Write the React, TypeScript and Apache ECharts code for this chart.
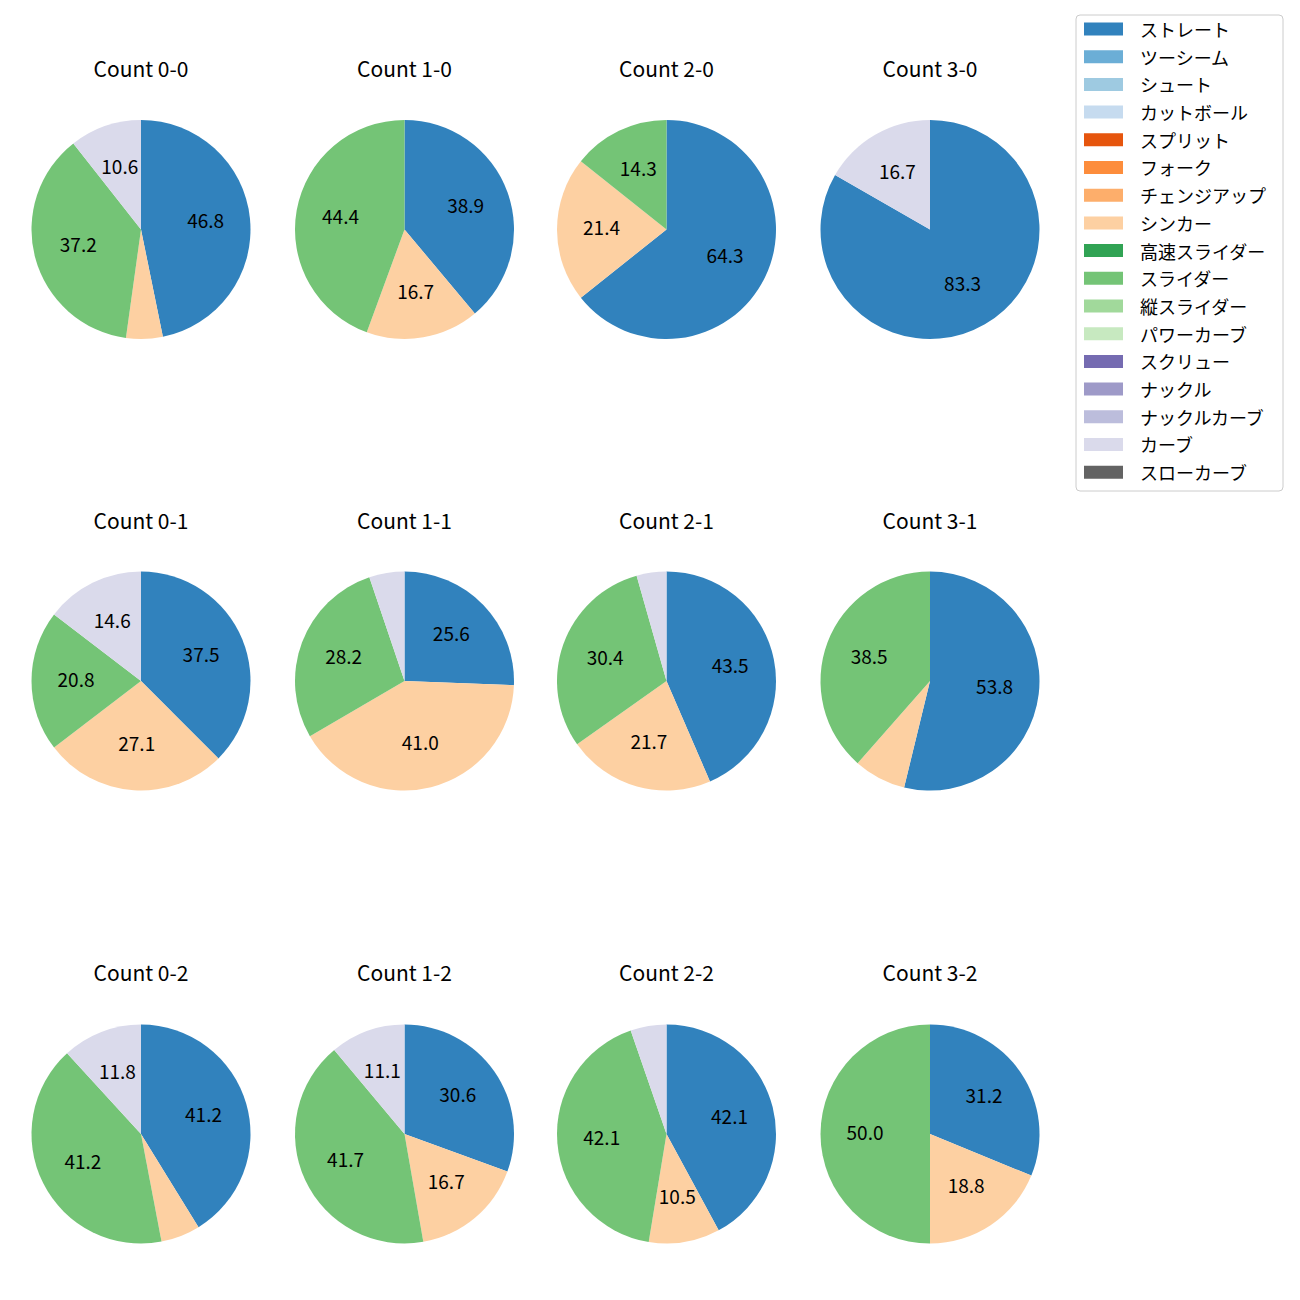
import React, { useEffect, useRef } from "react";
import * as echarts from "echarts";

const pitchTypes = [
  "ストレート", "ツーシーム", "シュート", "カットボール", "スプリット", "フォーク",
  "チェンジアップ", "シンカー", "高速スライダー", "スライダー", "縦スライダー",
  "パワーカーブ", "スクリュー", "ナックル", "ナックルカーブ", "カーブ", "スローカーブ",
];
const pitchColors = [
  "#3182bd", "#6baed6", "#9ecae1", "#c6dbef", "#e6550d", "#fd8d3c", "#fdae6b",
  "#fdd0a2", "#31a354", "#74c476", "#a1d99b", "#c7e9c0", "#756bb1", "#9e9ac8",
  "#bcbddc", "#dadaeb", "#636363",
];
const countLabels = ["0-0", "1-0", "2-0", "3-0", "0-1", "1-1", "2-1", "3-1", "0-2", "1-2", "2-2", "3-2"];

// percentage share per count (same order as countLabels)
const straight = [46.8, 38.9, 64.3, 83.3, 37.5, 25.6, 43.5, 53.8, 41.2, 30.6, 42.1, 31.2];
const sinker = [5.4, 16.7, 21.4, 0, 27.1, 41.0, 21.7, 7.7, 5.8, 16.7, 10.5, 18.8];
const slider = [37.2, 44.4, 14.3, 0, 20.8, 28.2, 30.4, 38.5, 41.2, 41.7, 42.1, 50.0];
const curve = [10.6, 0, 0, 16.7, 14.6, 5.2, 4.4, 0, 11.8, 11.1, 5.3, 0];

const shares: Record<string, number[]> = {
  "ストレート": straight,
  "シンカー": sinker,
  "スライダー": slider,
  "カーブ": curve,
};

const FONT = "Noto Sans CJK JP";
const colX = [141, 404.5, 666.5, 930];
const rowY = [229.5, 681, 1134];
const titleY = [67.5, 519.5, 971.5];
const R = 109.5;
const LABEL_R = 124;

export default function App() {
  const ref = useRef<HTMLDivElement>(null);
  useEffect(() => {
    if (!ref.current) return;
    const chart = echarts.init(ref.current, undefined, { renderer: "svg" });

    const pieSeries: any[] = [];
    const labelSeries: any[] = [];
    const graphics: any[] = [];

    countLabels.forEach((c, i) => {
      const cx = colX[i % 4];
      const cy = rowY[Math.floor(i / 4)];
      const data = pitchTypes.map((t, k) => ({
        name: t,
        value: shares[t] ? shares[t][i] : 0,
        itemStyle: { color: pitchColors[k] },
      }));
      pieSeries.push({
        type: "pie",
        center: [cx, cy],
        radius: [0, R],
        startAngle: 90,
        clockwise: true,
        avoidLabelOverlap: false,
        silent: true,
        label: { show: false },
        labelLine: { show: false },
        itemStyle: { borderWidth: 0 },
        emphasis: { disabled: true },
        data,
      });
      labelSeries.push({
        type: "pie",
        center: [cx, cy],
        radius: [0, LABEL_R],
        startAngle: 90,
        clockwise: true,
        avoidLabelOverlap: false,
        silent: true,
        itemStyle: { color: "rgba(0,0,0,0)", borderWidth: 0 },
        label: {
          show: true,
          position: "inside",
          offset: [0, -3],
          fontFamily: FONT,
          fontSize: 19,
          color: "#000",
          formatter: (p: any) => (p.value >= 10 ? Number(p.value).toFixed(1) : ""),
        },
        labelLine: { show: false },
        emphasis: { disabled: true },
        data: data.map((d) => ({ name: d.name, value: d.value })),
      });
      graphics.push({
        type: "text",
        x: cx,
        y: titleY[Math.floor(i / 4)],
        style: {
          text: "Count " + c,
          fontFamily: FONT,
          fontSize: 21,
          fill: "#000",
          align: "center",
          verticalAlign: "middle",
        },
      });
    });

    graphics.push({
      type: "rect",
      shape: { x: 1076, y: 15, width: 207, height: 476, r: 4 },
      style: { fill: "rgba(255,255,255,0.8)", stroke: "#cccccc", lineWidth: 1 },
      z: -1,
    });

    chart.setOption({
      animation: false,
      legend: {
        orient: "vertical",
        left: 1084,
        top: 20,
        padding: 0,
        icon: "rect",
        itemWidth: 39,
        itemHeight: 13,
        itemGap: 9.7,
        data: pitchTypes,
        selectedMode: false,
        textStyle: {
          fontFamily: FONT,
          fontSize: 18,
          color: "#000",
          padding: [0, 0, 0, 12],
        },
      },
      graphic: graphics,
      series: [...pieSeries, ...labelSeries],
    });
    return () => chart.dispose();
  }, []);
  return (
    <div
      ref={ref}
      style={{ position: "absolute", left: 0, top: 0, width: 1300, height: 1300 }}
    />
  );
}
